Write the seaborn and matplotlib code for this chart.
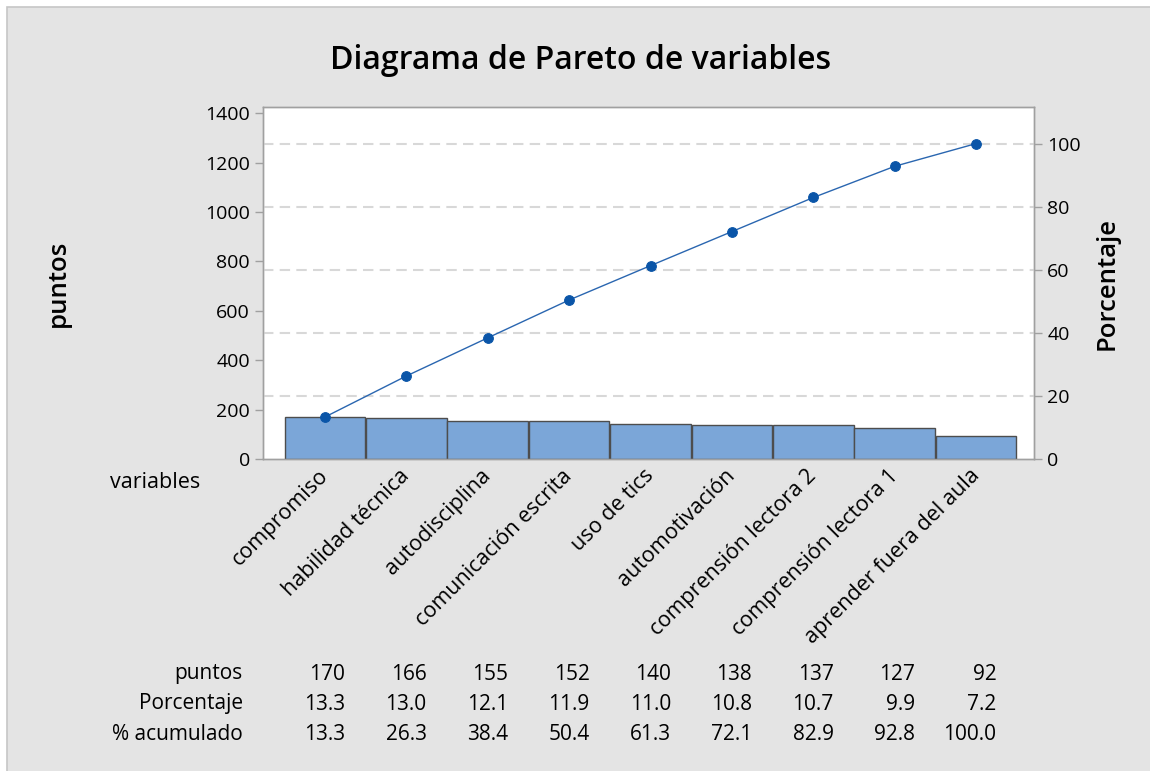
import numpy as np
import pandas as pd
import matplotlib
matplotlib.use("Agg")
import matplotlib.pyplot as plt
import matplotlib.transforms as mtransforms
from matplotlib.patches import Rectangle
import seaborn as sns

# ==========================================
# DATA
# ==========================================
variables = ["compromiso", "habilidad técnica", "autodisciplina", "comunicación escrita",
             "uso de tics", "automotivación", "comprensión lectora 2",
             "comprensión lectora 1", "aprender fuera del aula"]
puntos = [170, 166, 155, 152, 140, 138, 137, 127, 92]
porcentaje = [13.3, 13.0, 12.1, 11.9, 11.0, 10.8, 10.7, 9.9, 7.2]
acumulado = [13.3, 26.3, 38.4, 50.4, 61.3, 72.1, 82.9, 92.8, 100.0]

left_ticks = [0, 200, 400, 600, 800, 1000, 1200, 1400]
right_ticks = [0, 20, 40, 60, 80, 100]

# Style
BG = "#e4e4e4"
BAR = "#7ba6d8"
BAR_EDGE = "#4d4d4d"
LINE = "#2a66b0"
MARK = "#0a55a8"
SPINE = "#a0a0a0"
GRID = "#d8d8d8"
FONT = ["Open Sans", "DejaVu Sans"]


def main():
    sns.set_style("white")
    plt.rcParams["font.family"] = FONT
    plt.rcParams["text.color"] = "black"
    plt.rcParams["axes.labelcolor"] = "black"

    df = pd.DataFrame({"variable": variables, "puntos": puntos})
    total = sum(puntos)
    ylim_top = 1425

    fig = plt.figure(figsize=(11.5, 7.71), dpi=100, facecolor="white")
    fig.patches.append(Rectangle((7 / 1150, -0.01), 1.0, 1 - 7 / 771 + 0.01,
                                 transform=fig.transFigure, facecolor=BG,
                                 edgecolor="#c6c6c6", linewidth=1.2, zorder=-10))

    ax = fig.add_axes([263 / 1150, 1 - 459 / 771, (1034 - 263) / 1150, (459 - 107) / 771])
    ax.set_facecolor("white")

    sns.barplot(data=df, x="variable", y="puntos", color=BAR, width=0.99,
                edgecolor=BAR_EDGE, linewidth=1.0, saturation=1, ax=ax, zorder=3)
    ax.set_xlim(-0.76, 8.71)
    ax.set_ylim(0, ylim_top)
    ax.set_yticks(left_ticks)
    ax.set_xlabel("")
    ax.set_ylabel("")

    # percentage axis: same scale as the counts, 100 % = total
    ax2 = ax.twinx()
    ax2.set_ylim(0, ylim_top / total * 100)
    ax2.set_yticks(right_ticks)
    for t in right_ticks[1:]:
        ax2.axhline(t, color=GRID, linestyle=(0, (5, 3)), linewidth=1.5, zorder=0)
    sns.lineplot(x=np.arange(len(variables)), y=acumulado, ax=ax2, color=LINE,
                 linewidth=1.0, marker="o", markersize=7, markerfacecolor=MARK,
                 markeredgecolor=MARK, zorder=5)
    ax2.set_zorder(ax.get_zorder() + 1)
    ax2.patch.set_visible(False)

    for a in (ax, ax2):
        for s in a.spines.values():
            s.set_color(SPINE)
            s.set_linewidth(1.0)
        a.tick_params(axis="both", direction="out", length=6, width=1, color=SPINE,
                      labelsize=14, labelcolor="black")

    ax.set_xticks(range(len(variables)))
    ax.set_xticklabels(variables, rotation=45, ha="right", va="center",
                       rotation_mode="anchor", fontsize=15.5)
    ax.tick_params(axis="x", pad=4)
    ax2.set_ylabel("Porcentaje", fontsize=18.5, fontweight="semibold", labelpad=10)

    fig.text(0.505, 0.922, "Diagrama de Pareto de variables", ha="center", va="center",
             fontsize=23, fontweight="semibold")
    fig.text(58 / 1150, 1 - 283 / 771, "puntos", rotation=90, ha="center", va="center",
             fontsize=18.5, fontweight="semibold")
    fig.text(110 / 1150, 1 - 482 / 771, "variables", ha="left", va="center", fontsize=15.5)

    # summary table under the chart
    trans = mtransforms.blended_transform_factory(ax.transData, fig.transFigure)
    rows = [("puntos", [str(v) for v in puntos]),
            ("Porcentaje", [f"{v:.1f}" for v in porcentaje]),
            ("% acumulado", [f"{v:.1f}" for v in acumulado])]
    for r, (label, vals) in enumerate(rows):
        y = 1 - (674 + 30 * r) / 771
        fig.text(243 / 1150, y, label, ha="right", va="center", fontsize=15)
        for i, v in enumerate(vals):
            ax.text(i + 0.25, y, v, transform=trans, ha="right", va="center",
                    fontsize=15, clip_on=False)

    fig.savefig("out.png", dpi=100, facecolor="white")
    plt.close(fig)


if __name__ == "__main__":
    main()
